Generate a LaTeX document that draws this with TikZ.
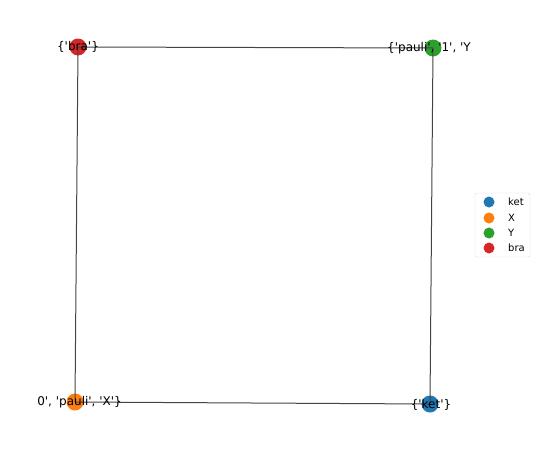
\documentclass[tikz,border=0pt]{standalone}
\usepackage{fontspec}
\newfontfamily\dejavu{DejaVu Sans}
\usetikzlibrary{positioning}
\definecolor{KetBlue}{HTML}{1F77B4}
\definecolor{XOrange}{HTML}{FF7F0E}
\definecolor{YGreen}{HTML}{2CA02C}
\definecolor{BraRed}{HTML}{D62728}
\definecolor{Edge}{HTML}{444444}

\begin{document}
\begin{tikzpicture}[
  x=1pt, y=-1pt,
  vertex/.style={circle, inner sep=0pt, minimum size=17pt},
  nodetext/.style={font=\dejavu\fontsize{12}{12}\selectfont, inner sep=0pt},
  edge/.style={draw=Edge, line width=1pt},
  swatch/.style={circle, inner sep=0pt, minimum size=11pt},
  entry/.style={font=\dejavu\fontsize{10}{10}\selectfont, inner sep=0pt, anchor=west}
]
\useasboundingbox (0,0) rectangle (538,466);

\node[vertex, fill=BraRed] (bra) at (78,47) {};
\node[vertex, fill=YGreen] (y) at (433,48) {};
\node[vertex, fill=XOrange] (x) at (75,402) {};
\node[vertex, fill=KetBlue] (ket) at (430,404) {};

\draw[edge] (bra.center) -- (y.center);
\draw[edge] (y.center) -- (ket.center);
\draw[edge] (ket.center) -- (x.center);
\draw[edge] (x.center) -- (bra.center);

\node[nodetext] (bralab) at (bra.center) {\{'bra'\}};
\node[nodetext, anchor=west] (ylab) at (387,48) {\{'pauli', '1', 'Y};
\node[nodetext, anchor=east] (xlab) at (122,402) {0', 'pauli', 'X'\}};
\node[nodetext] (ketlab) at (431,405) {\{'ket'\}};

% legend
\node[draw=black!15, fill=white, rounded corners=2pt, minimum width=55pt, minimum height=64pt, inner sep=0pt] (legend) at (502.5,225) {};
\node[swatch, fill=KetBlue] (mket) at (489,202) {};
\node[swatch, fill=XOrange] (mx) at (489,218) {};
\node[swatch, fill=YGreen] (my) at (489,233) {};
\node[swatch, fill=BraRed] (mbra) at (489,248) {};
\node[entry] (tket) at (508,202) {ket};
\node[entry] (tx) at (508,218) {X};
\node[entry] (ty) at (508,233) {Y};
\node[entry] (tbra) at (508,248) {bra};
\end{tikzpicture}
\end{document}
